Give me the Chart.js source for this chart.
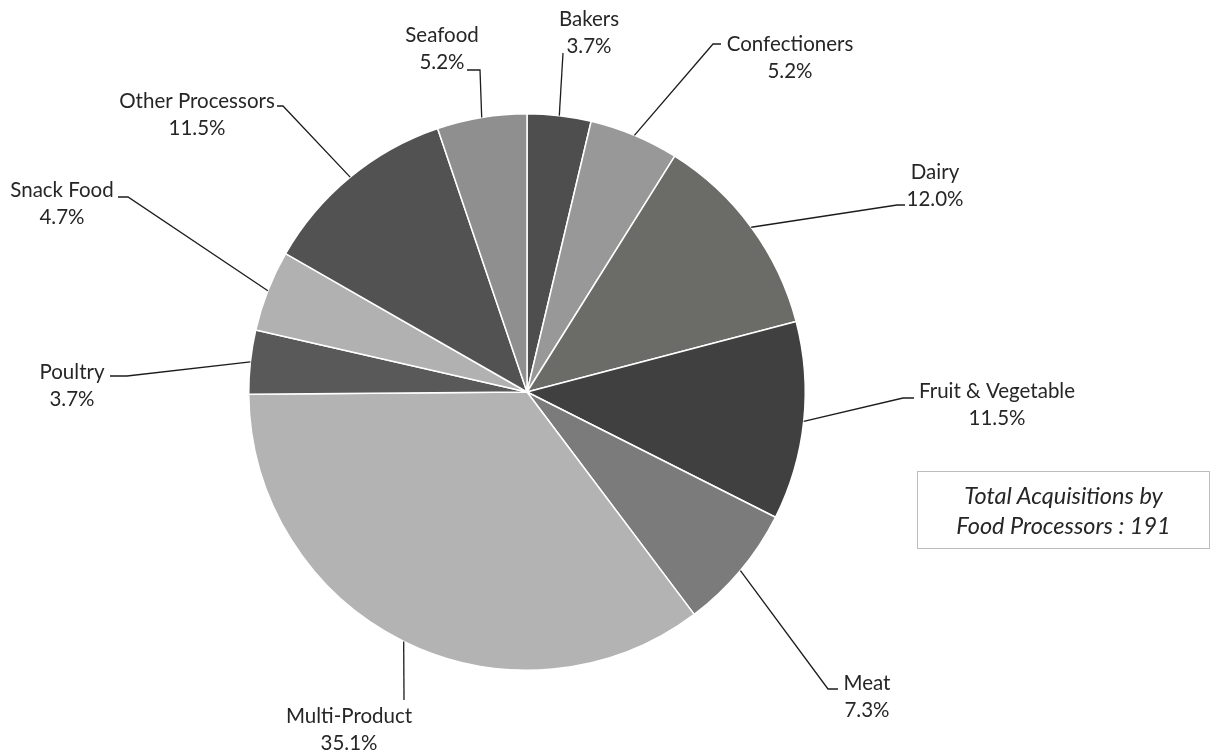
<!DOCTYPE html>
<html>
<head>
<meta charset="utf-8">
<script src="https://cdn.jsdelivr.net/npm/chart.js@4/dist/chart.umd.min.js"></script>
<style>
  html, body { margin: 0; padding: 0; background: #ffffff; }
  #wrap { position: relative; width: 1212px; height: 755px; }
  #note {
    position: absolute; left: 917px; top: 471px; width: 293px; height: 78px;
    border: 1.5px solid #bdbdbd; box-sizing: border-box;
    font-family: Lato, "Open Sans", sans-serif; font-style: italic; font-size: 23.5px;
    color: #262626; text-align: center; line-height: 30px; padding-top: 8px;
  }
</style>
</head>
<body>
<div id="wrap">
  <canvas id="c" width="1212" height="755"></canvas>
  <div id="note">Total Acquisitions by<br>Food Processors : 191</div>
</div>
<script>
// ---- data ----
const categories = ["Bakers", "Confectioners", "Dairy", "Fruit & Vegetable", "Meat",
                    "Multi-Product", "Poultry", "Snack Food", "Other Processors", "Seafood"];
const shares = [3.7, 5.2, 12.0, 11.5, 7.3, 35.1, 3.7, 4.7, 11.5, 5.2];
const sliceColors = ["#4e4e4e", "#989898", "#6b6b67", "#404040", "#7b7b7b",
                     "#b3b3b3", "#595959", "#b1b1b1", "#525252", "#8f8f8f"];

// ---- label placement (layout only) ----
const labelLayout = [
  { elbow: [563, 53],  end: [563, 53],  tx: 589, ty: 19 },
  { elbow: [713, 44],  end: [721, 44],  tx: 790, ty: 44 },
  { elbow: [897, 205], end: [905, 205], tx: 935, ty: 172 },
  { elbow: [903, 398], end: [914, 398], tx: 997, ty: 391 },
  { elbow: [828, 689], end: [838, 689], tx: 867, ty: 683 },
  { elbow: [404, 700], end: [404, 700], tx: 349, ty: 716 },
  { elbow: [127, 376], end: [110, 376], tx: 72,  ty: 372 },
  { elbow: [128, 197], end: [118, 197], tx: 62,  ty: 190 },
  { elbow: [283, 106], end: [277, 106], tx: 197, ty: 101 },
  { elbow: [480, 70],  end: [467, 70],  tx: 442, ty: 35 }
];

const leaderLabels = {
  id: 'leaderLabels',
  afterDatasetsDraw(chart) {
    const ctx = chart.ctx;
    const meta = chart.getDatasetMeta(0);
    const values = chart.data.datasets[0].data;
    ctx.save();
    meta.data.forEach((arc, i) => {
      const p = arc.getProps(['x', 'y', 'startAngle', 'endAngle', 'outerRadius'], true);
      const mid = (p.startAngle + p.endAngle) / 2;
      const sx = p.x + Math.cos(mid) * p.outerRadius;
      const sy = p.y + Math.sin(mid) * p.outerRadius;
      const L = labelLayout[i];
      ctx.strokeStyle = '#1c1c1c';
      ctx.lineWidth = 1.3;
      ctx.beginPath();
      ctx.moveTo(sx, sy);
      ctx.lineTo(L.elbow[0], L.elbow[1]);
      ctx.lineTo(L.end[0], L.end[1]);
      ctx.stroke();
      ctx.fillStyle = '#262626';
      ctx.font = '20.5px Lato, "Open Sans", sans-serif';
      ctx.textAlign = 'center';
      ctx.textBaseline = 'middle';
      ctx.fillText(chart.data.labels[i], L.tx, L.ty);
      ctx.fillText(values[i].toFixed(1) + '%', L.tx, L.ty + 27);
    });
    ctx.restore();
  }
};

new Chart(document.getElementById('c'), {
  type: 'pie',
  data: {
    labels: categories,
    datasets: [{
      data: shares,
      backgroundColor: sliceColors,
      borderColor: '#ffffff',
      borderWidth: 1.5
    }]
  },
  options: {
    responsive: false,
    animation: false,
    devicePixelRatio: 1,
    layout: { padding: { top: 113, bottom: 84, left: 248, right: 406 } },
    plugins: { legend: { display: false }, tooltip: { enabled: false } }
  },
  plugins: [leaderLabels]
});
</script>
</body>
</html>
